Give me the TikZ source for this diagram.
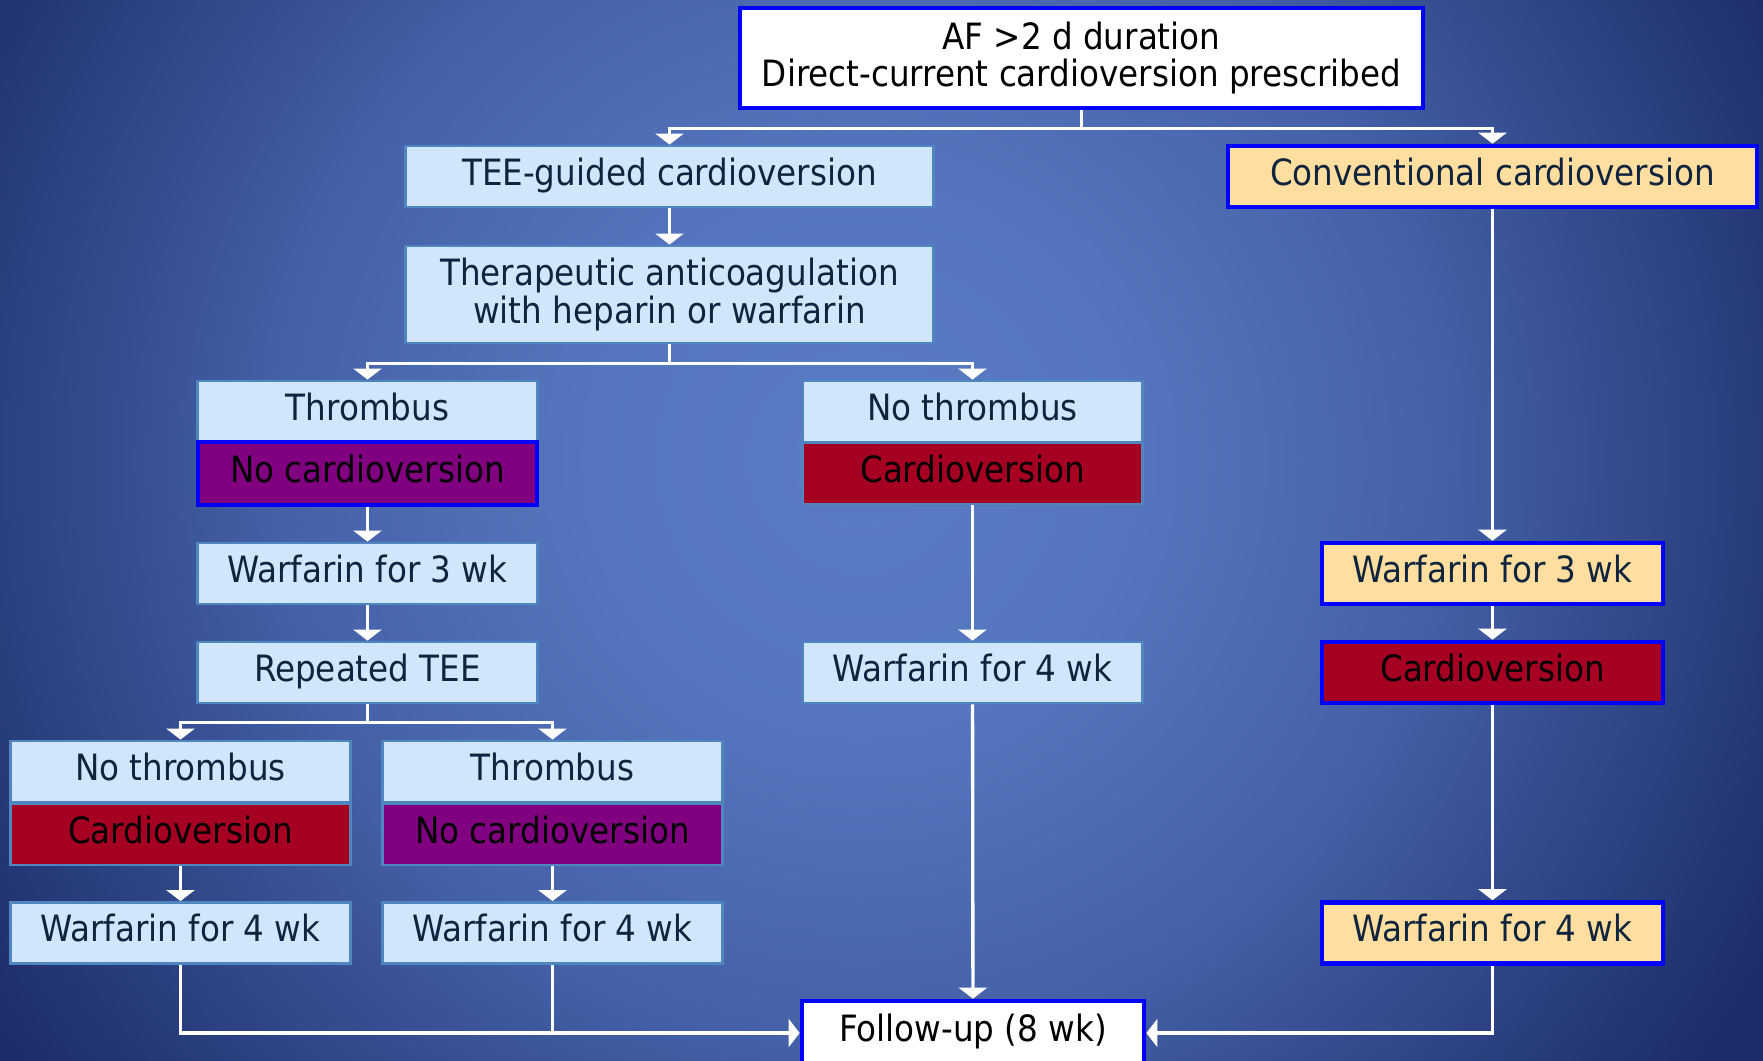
\documentclass[tikz,border=0pt]{standalone}
\usepackage{fontspec}
\setmainfont{DejaVu Sans Condensed}
\usetikzlibrary{arrows.meta}

\definecolor{boxlight}{HTML}{D0E6FB}
\definecolor{edgelight}{HTML}{4F86C0}
\definecolor{boxyellow}{HTML}{FFDE9F}
\definecolor{boxred}{HTML}{A50021}
\definecolor{boxpurple}{HTML}{800080}
\definecolor{pureblue}{HTML}{0000FF}
\definecolor{txtdark}{HTML}{10243E}
\definecolor{bgA}{HTML}{5A7CC5}
\definecolor{bgB}{HTML}{5576BF}
\definecolor{bgC}{HTML}{4561A8}
\definecolor{bgD}{HTML}{2C4282}
\definecolor{bgE}{HTML}{1C2C68}

\pgfdeclareradialshading{slidebg}{\pgfpoint{0bp}{0bp}}{color(0bp)=(bgA); color(7bp)=(bgB); color(15bp)=(bgC); color(22bp)=(bgD); color(27bp)=(bgE); color(50bp)=(bgE)}

\tikzset{
  base/.style={inner sep=0pt, align=center, font=\fontsize{10.3}{10.8}\selectfont},
  lbox/.style={base, fill=boxlight, draw=edgelight, line width=0.8pt, text=txtdark},
  ybox/.style={base, fill=boxyellow, draw=pureblue, line width=1.3pt, text=txtdark},
  wbox/.style={base, fill=white, draw=pureblue, line width=1.3pt, text=black},
  rbox/.style={base, fill=boxred, draw=edgelight, line width=0.8pt, text=black},
  pbox/.style={base, fill=boxpurple, draw=edgelight, line width=0.8pt, text=black},
  thick blue/.style={draw=pureblue, line width=1.3pt},
  oneline/.style={text height=8pt, text depth=3pt},
  wide/.style={minimum width=5.27cm},
  narrow/.style={minimum width=3.39cm},
  row/.style={oneline, minimum height=0.61cm},
  arr/.style={draw=white, line width=0.95pt, -{Triangle[width=0.28cm,length=0.11cm]}},
  ln/.style={draw=white, line width=0.95pt}
}

\begin{document}
\begin{tikzpicture}[x=0.01cm, y=-0.01cm]
  \useasboundingbox (0,0) rectangle (1763,1060);
  % background
  \begin{scope}
    \clip (0,0) rectangle (1763,1060);
    \shade[shading=slidebg] (-100,-500) rectangle (1820,1420);
  \end{scope}

  % top
  \node[wbox, minimum width=6.83cm, minimum height=1cm] (start) at (1081.5,58)
    {AF >2 d duration\\Direct-current cardioversion prescribed};
  \node[lbox, wide, row] (tee) at (669.5,176.5) {TEE-guided cardioversion};
  \node[ybox, minimum width=5.29cm, row] (conv) at (1492.5,176.5) {Conventional cardioversion};
  \node[lbox, wide, minimum height=0.97cm] (anticoag) at (669.5,294.5)
    {Therapeutic anticoagulation\\with heparin or warfarin};

  % TEE branch
  \node[lbox, narrow, row] (thrA) at (367.5,411.5) {Thrombus};
  \node[pbox, thick blue, narrow, row, minimum height=0.63cm] (nocvA) at (367.5,473.5) {No cardioversion};
  \node[lbox, narrow, row] (warfA) at (367.5,573.5) {Warfarin for 3 wk};
  \node[lbox, narrow, row] (reptee) at (367.5,672.5) {Repeated TEE};

  \node[lbox, narrow, row] (nothrC) at (180.5,771.5) {No thrombus};
  \node[rbox, narrow, row] (cvC) at (180.5,834.5) {Cardioversion};
  \node[lbox, narrow, row] (warfC) at (180.5,933) {Warfarin for 4 wk};

  \node[lbox, narrow, row] (thrD) at (552.5,771.5) {Thrombus};
  \node[pbox, narrow, row] (nocvD) at (552.5,834.5) {No cardioversion};
  \node[lbox, narrow, row] (warfD) at (552.5,933) {Warfarin for 4 wk};

  \node[lbox, narrow, row] (nothrB) at (972.5,411.5) {No thrombus};
  \node[rbox, narrow, row] (cvB) at (972.5,473.5) {Cardioversion};
  \node[lbox, narrow, row] (warfB) at (972.5,672.5) {Warfarin for 4 wk};

  % conventional branch
  \node[ybox, minimum width=3.41cm, row] (warfE) at (1492.5,573.5) {Warfarin for 3 wk};
  \node[rbox, thick blue, minimum width=3.41cm, row] (cvE) at (1492.5,672.5) {Cardioversion};
  \node[ybox, minimum width=3.41cm, row] (warfF) at (1492.5,933) {Warfarin for 4 wk};

  \node[wbox, oneline, minimum width=3.42cm, minimum height=0.64cm] (follow) at (973,1033) {Follow-up (8 wk)};

  % connectors
  \draw[arr] (start.south) -- ++(0,18) -| (tee.north);
  \draw[arr] (start.south) -- ++(0,18) -| (conv.north);
  \draw[arr] (tee) -- (anticoag);
  \draw[arr] (anticoag.south) -- ++(0,19) -| (thrA.north);
  \draw[arr] (anticoag.south) -- ++(0,19) -| (nothrB.north);
  \draw[arr] (nocvA) -- (warfA);
  \draw[arr] (warfA) -- (reptee);
  \draw[arr] (reptee.south) -- ++(0,18) -| (nothrC.north);
  \draw[arr] (reptee.south) -- ++(0,18) -| (thrD.north);
  \draw[arr] (cvC) -- (warfC);
  \draw[arr] (nocvD) -- (warfD);
  \draw[arr] (cvB) -- (warfB);
  \draw[arr] (warfB) -- (follow);
  \draw[arr] (conv) -- (warfE);
  \draw[arr] (warfE) -- (cvE);
  \draw[arr] (cvE) -- (warfF);
  \draw[arr] (warfC.south) |- (follow.west);
  \draw[ln] (warfD.south) -- (warfD.south |- follow.west);
  \draw[arr] (warfF.south) |- (follow.east);
\end{tikzpicture}
\end{document}
